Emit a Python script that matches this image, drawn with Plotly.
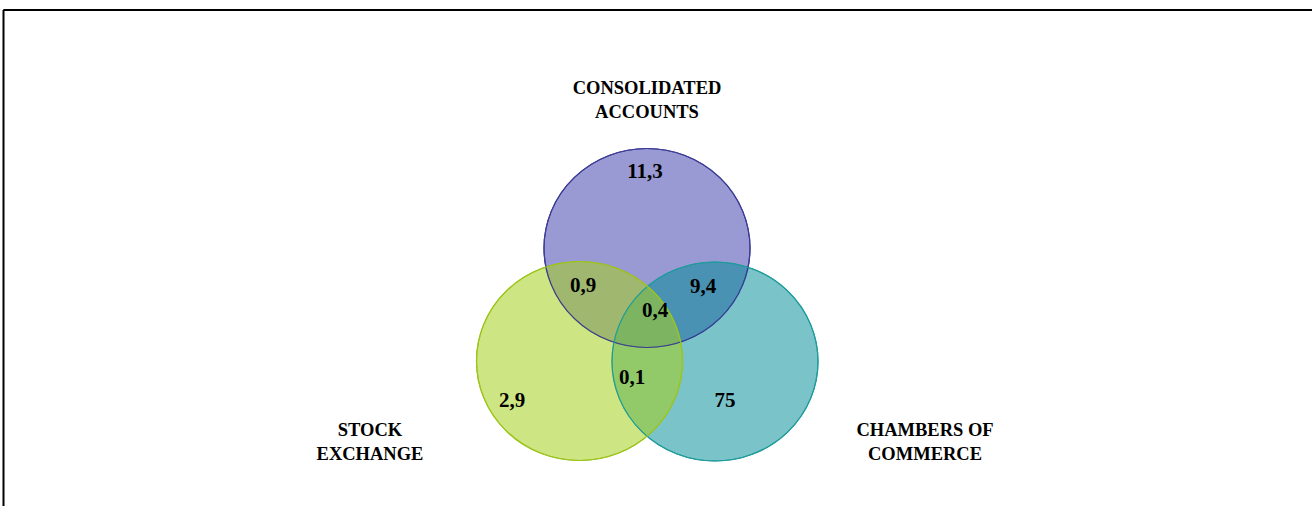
import plotly.graph_objects as go

# ---- data ----
set_names = ["CONSOLIDATED<br>ACCOUNTS", "STOCK<br>EXCHANGE", "CHAMBERS OF<br>COMMERCE"]
region_labels = ["11,3", "0,9", "9,4", "0,4", "0,1", "2,9", "75"]
region_values = [11.3, 0.9, 9.4, 0.4, 0.1, 2.9, 75]

# ---- layout geometry (pixel-like axis units) ----
circle_centers = [(647, 248), (715, 361.5), (579.5, 361)]  # purple, teal, green (draw order)
circle_rx = 103
circle_ry = 99.5
circle_fill = ["rgba(60,60,170,0.52)", "rgba(0,140,150,0.52)", "rgba(165,208,30,0.55)"]
circle_line = ["#3c3c96", "#1f9c9c", "#9cc41c"]

set_label_pos = [(647, 101), (370, 443), (925, 443)]
region_pos = [(645, 173), (583, 287), (703, 288), (655, 312), (632, 379), (512, 402), (725, 402)]

fig = go.Figure()

shapes = []
for (cx, cy), fc, lc in zip(circle_centers, circle_fill, circle_line):
    shapes.append(dict(type="circle", xref="x", yref="y",
                       x0=cx - circle_rx, x1=cx + circle_rx,
                       y0=cy - circle_ry, y1=cy + circle_ry,
                       fillcolor=fc, line=dict(color=lc, width=1.2), layer="below"))
# outlines on top
for (cx, cy), lc in zip(circle_centers, circle_line):
    shapes.append(dict(type="circle", xref="x", yref="y",
                       x0=cx - circle_rx, x1=cx + circle_rx,
                       y0=cy - circle_ry, y1=cy + circle_ry,
                       fillcolor="rgba(0,0,0,0)", line=dict(color=lc, width=1.2), layer="below"))
# frame lines
shapes.append(dict(type="line", xref="paper", yref="paper", x0=0.0025, x1=1, y0=1 - 10/506, y1=1 - 10/506,
                   line=dict(color="black", width=2)))
shapes.append(dict(type="line", xref="paper", yref="paper", x0=3.5/1312, x1=3.5/1312, y0=0, y1=1 - 10/506,
                   line=dict(color="black", width=2)))

fig.add_trace(go.Scatter(
    x=[p[0] for p in region_pos], y=[p[1] for p in region_pos],
    mode="text", text=region_labels, customdata=region_values,
    textfont=dict(family="Liberation Serif", size=21, color="black"),
    textposition="middle center", hoverinfo="skip", showlegend=False,
    texttemplate="<b>%{text}</b>"))

fig.add_trace(go.Scatter(
    x=[p[0] for p in set_label_pos], y=[p[1] for p in set_label_pos],
    mode="text", text=set_names,
    textfont=dict(family="Liberation Serif", size=18.5, color="black"),
    textposition="middle center", hoverinfo="skip", showlegend=False,
    texttemplate="<b>%{text}</b>"))

fig.update_layout(
    width=1312, height=506, margin=dict(l=0, r=0, t=0, b=0),
    paper_bgcolor="white", plot_bgcolor="white",
    xaxis=dict(range=[0, 1312], visible=False, fixedrange=True),
    yaxis=dict(range=[506, 0], visible=False, fixedrange=True),
    shapes=shapes, showlegend=False,
)

fig.write_html("out.html")
